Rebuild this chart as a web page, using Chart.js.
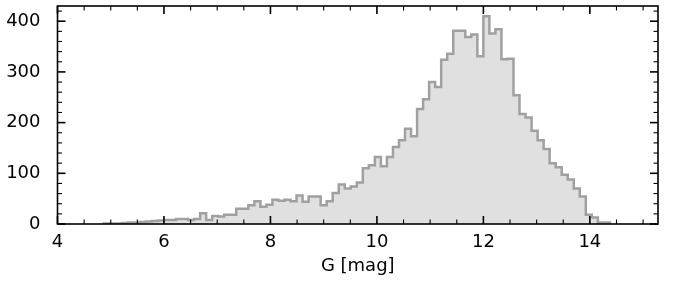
<!DOCTYPE html>
<html lang="en">

<head>
    <meta charset="UTF-8">
    <title>G magnitude histogram</title>
    <script src="https://cdn.jsdelivr.net/npm/chart.js"></script>
    <style>
        html, body {
            margin: 0;
            padding: 0;
            background: #fff;
        }

        #wrap {
            width: 676px;
            height: 282px;
        }
    </style>
</head>

<body>
    <div id="wrap"><canvas id="histChart" width="676" height="282"></canvas></div>

    <script>
        // histogram bins (G mag)
        const binStart = 4.868;
        const binWidth = 0.1132;
        const counts = [
            1, 1, 1, 2, 3, 3, 4, 5, 6, 7,
            8, 8, 10, 10, 8, 10, 21, 8, 16, 15,
            18, 18, 30, 30, 37, 45, 34, 38, 48, 46,
            48, 45, 56, 44, 54, 54, 37, 45, 61, 78,
            70, 74, 82, 110, 116, 132, 114, 132, 152, 165,
            188, 173, 227, 246, 280, 270, 324, 336, 381, 381,
            369, 374, 331, 410, 376, 384, 325, 326, 254, 217,
            210, 184, 165, 148, 120, 112, 97, 88, 70, 54,
            18, 13, 3, 3
        ];

        const xTicks = [4, 6, 8, 10, 12, 14];
        const yTicks = [0, 100, 200, 300, 400];
        const xMinorStep = 0.5;
        const yMinorStep = 20;
        const xRange = [4, 15.28];
        const yRange = [0, 430];

        // step outline: each bin value starts at its left edge
        const points = [{ x: binStart, y: 0 }];
        counts.forEach((c, i) => points.push({ x: binStart + i * binWidth, y: c }));
        points.push({ x: binStart + counts.length * binWidth, y: 0 });

        const font = { family: "'DejaVu Sans', sans-serif", size: 18 };

        // matplotlib-like inward ticks on all four sides + box
        const insideTicks = {
            id: 'insideTicks',
            afterDraw(chart) {
                const { ctx, chartArea: a, scales: { x, y } } = chart;
                ctx.save();
                ctx.strokeStyle = '#000';

                const tick = (x1, y1, x2, y2, w) => {
                    ctx.lineWidth = w;
                    ctx.beginPath();
                    ctx.moveTo(x1, y1);
                    ctx.lineTo(x2, y2);
                    ctx.stroke();
                };

                for (let v = xRange[0]; v <= xRange[1] + 1e-9; v += xMinorStep) {
                    const px = x.getPixelForValue(v);
                    const major = xTicks.includes(Math.round(v * 100) / 100);
                    const len = major ? 8 : 4.5;
                    const w = major ? 1.6 : 1.1;
                    tick(px, a.bottom, px, a.bottom - len, w);
                    tick(px, a.top, px, a.top + len, w);
                }
                for (let v = yRange[0]; v <= yRange[1] + 1e-9; v += yMinorStep) {
                    const py = y.getPixelForValue(v);
                    const major = yTicks.includes(v);
                    const len = major ? 8 : 4.5;
                    const w = major ? 1.6 : 1.1;
                    tick(a.left, py, a.left + len, py, w);
                    tick(a.right, py, a.right - len, py, w);
                }

                ctx.lineWidth = 1.6;
                ctx.strokeRect(a.left, a.top, a.right - a.left, a.bottom - a.top);
                ctx.restore();
            }
        };

        const ctx = document.getElementById('histChart').getContext('2d');
        new Chart(ctx, {
            type: 'line',
            data: {
                datasets: [{
                    data: points,
                    stepped: 'before',
                    borderColor: 'rgb(160,160,160)',
                    backgroundColor: 'rgb(224,224,224)',
                    borderWidth: 2.5,
                    fill: 'origin',
                    pointRadius: 0,
                    tension: 0
                }]
            },
            options: {
                responsive: false,
                animation: false,
                layout: { padding: { left: 0, right: 18, top: 6, bottom: 0 } },
                plugins: {
                    legend: { display: false },
                    tooltip: { enabled: false }
                },
                scales: {
                    x: {
                        type: 'linear',
                        min: xRange[0],
                        max: xRange[1],
                        grid: { display: false },
                        border: { display: false },
                        afterBuildTicks: s => { s.ticks = xTicks.map(v => ({ value: v })); },
                        ticks: { font: font, color: '#000', padding: 0, maxRotation: 0 },
                        title: {
                            display: true,
                            text: 'G [mag]',
                            font: font,
                            color: '#000',
                            padding: { top: 0, bottom: 5 }
                        },
                        afterFit: s => {
                            s.height = 58;
                            s.paddingLeft = 0;
                            s.paddingRight = 0;
                        }
                    },
                    y: {
                        min: yRange[0],
                        max: yRange[1],
                        grid: { display: false },
                        border: { display: false },
                        afterBuildTicks: s => { s.ticks = yTicks.map(v => ({ value: v })); },
                        ticks: { font: font, color: '#000', padding: 9 },
                        afterFit: s => {
                            s.width = 57.5;
                            s.paddingTop = 0;
                            s.paddingBottom = 0;
                        }
                    }
                }
            },
            plugins: [insideTicks]
        });
    </script>
</body>

</html>
